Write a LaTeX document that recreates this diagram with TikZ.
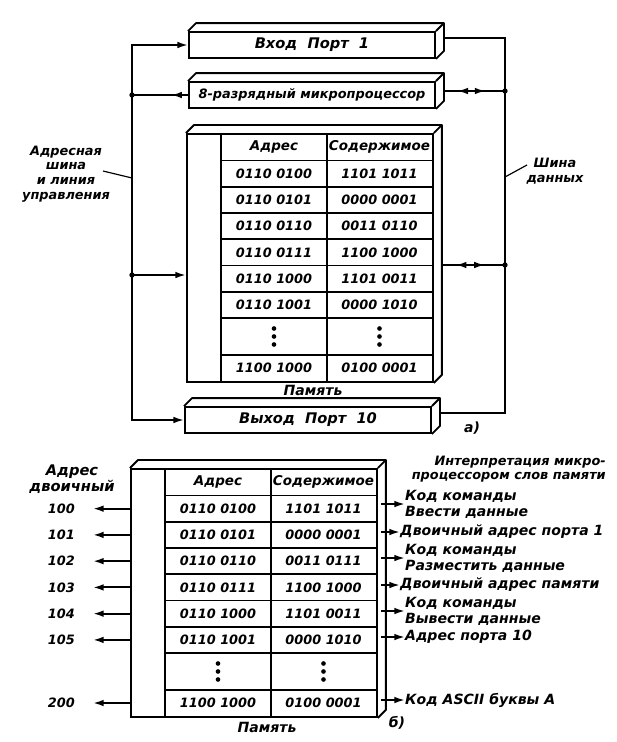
\documentclass[tikz,border=0pt]{standalone}
\usepackage{fontspec}
\setmainfont{DejaVu Sans}
\usetikzlibrary{calc,arrows.meta,decorations.markings}

\tikzset{
  lbl/.style={font=\fontsize{12}{13.5}\selectfont\bfseries\itshape, inner sep=0pt},
  small/.style={font=\fontsize{11}{12.5}\selectfont\bfseries\itshape},
  cell/.style={font=\fontsize{11}{12}\selectfont\bfseries\itshape, inner sep=0pt},
  head/.style={font=\fontsize{11.5}{13}\selectfont\bfseries\itshape, inner sep=0pt},
  bus/.style={line width=1.6pt},
  cellrule/.style={line width=1.5pt},
  leader/.style={line width=1pt},
  portbox/.style={draw, line width=1.6pt, minimum width=246*0.3mm, minimum height=26*0.3mm, inner sep=0pt, lbl, font=\fontsize{12.5}{14}\selectfont\bfseries\itshape},
  memframe/.style={draw, line width=1.6pt, minimum width=246*0.3mm, minimum height=248*0.3mm, inner sep=0pt},
  junction/.style={circle, fill, inner sep=0pt, minimum size=4.5pt},
  midleft/.style={postaction={decorate}, decoration={markings, mark=at position 0.3 with {\arrow{>}}}},
  twoway/.style={postaction={decorate}, decoration={markings, mark=at position 0.22 with {\arrowreversed{>}}, mark=at position 0.68 with {\arrow{>}}}},
}

% top and side face of a box
\newcommand{\boxdepth}[1]{%
  \draw[line width=1.6pt,line join=round] (#1.north west) -- ++(8,-8) -| ([shift={(8,-8)}]#1.south east) -- (#1.south east);
  \draw[line width=1.6pt] (#1.north east) -- ++(8,-8);
}

\begin{document}
\begin{tikzpicture}[x=0.3mm,y=-0.3mm,>={Latex[length=3.2mm,width=2mm]}]
\useasboundingbox (0,0) rectangle (617,742);

% a) ports and processor
\node[portbox] (inp) at (312,45) {Вход\ \ Порт\ \ 1};
\node[portbox,small] (mpu) at (312,95) {8-разрядный микропроцессор};
\node[portbox] (outp) at (308,420) {Выход\ \ Порт\ \ 10};
\foreach \bx in {inp,mpu,outp} \boxdepth{\bx};

% memory tables, a) and b)
\foreach \pan/\ox/\oy/\third in {a/186/133/0011 0110,b/130/468/0011 0111}{
  \node[memframe, anchor=north west] (mem\pan) at (\ox,\oy) {};
  \boxdepth{mem\pan}
  \draw[cellrule] (\ox+35,\oy) -- (\ox+35,\oy+248);
  \draw[cellrule] (\ox+141,\oy) -- (\ox+141,\oy+248);
  \foreach \ly in {27.5,53.75,80,106.25,132.5,158.75,185,222}
    \draw[cellrule] (\ox+35,\oy+\ly) -- (\ox+246,\oy+\ly);
  \node[head] (\pan-hadr) at (\ox+88,\oy+14) {Адрес};
  \node[head] (\pan-hval) at (\ox+193.5,\oy+14) {Содержимое};
  \foreach \adr/\val [count=\i] in {0110 0100/1101 1011,0110 0101/0000 0001,0110 0110/\third,0110 0111/1100 1000,0110 1000/1101 0011,0110 1001/0000 1010}{
    \node[cell] (\pan-adr\i) at (\ox+88,\oy+14.4+26.25*\i) {\adr};
    \node[cell] (\pan-val\i) at (\ox+193.5,\oy+14.4+26.25*\i) {\val};
  }
  \foreach \cx in {88,193.5}
    \foreach \dy in {-8,0,8}
      \fill (\ox+\cx,\oy+203.5+\dy) circle (2pt);
  \node[cell] (\pan-adr7) at (\ox+88,\oy+235) {1100 1000};
  \node[cell] (\pan-val7) at (\ox+193.5,\oy+235) {0100 0001};
}
\node[lbl] (memlbla) at (313,390) {Память};
\node[lbl] (capa) at (472,428) {а)};

% address bus
\coordinate (lbtop) at (132,45);
\coordinate (lbmp) at (132,95);
\coordinate (lbmem) at (132,275);
\coordinate (lbbot) at (132,420);
\draw[bus,line cap=rect] (lbtop) -- (lbbot);
\draw[bus,->] (lbtop) -- (inp.west);
\draw[bus,midleft] (mpu.west) -- (lbmp);
\draw[bus,->] (lbmem) -- (mema.west |- lbmem);
\draw[bus,->] (lbbot) -- (outp.west);
\node[junction] (jlmp) at (lbmp) {};
\node[junction] (jlmem) at (lbmem) {};

% data bus
\coordinate (rbtop) at (505,38);
\coordinate (rbmp) at (505,91);
\coordinate (rbmem) at (505,265);
\coordinate (rbbot) at (505,413);
\draw[bus,line cap=rect] (rbtop) -- (rbbot);
\draw[bus] ([shift={(8,-7)}]inp.east) -- (rbtop);
\draw[bus,twoway] ([shift={(8,-4)}]mpu.east) -- (rbmp);
\draw[bus,twoway] ($(mema.east |- rbmem)+(8,0)$) -- (rbmem);
\draw[bus] ([shift={(8,-7)}]outp.east) -- (rbbot);
\node[junction] (jrmp) at (rbmp) {};
\node[junction] (jrmem) at (rbmem) {};

% bus names
\node[lbl,small,align=center] (addrlbl) at (66,174) {Адресная\\шина\\и линия\\управления};
\coordinate (lbtag) at (132,178);
\draw[leader] ($(addrlbl.center)+(37,-3)$) -- (lbtag);
\node[lbl,small,align=center] (datalbl) at (555,171) {Шина\\данных};
\coordinate (rbtag) at (505,177);
\draw[leader] ($(datalbl.center)+(-28,-6)$) -- (rbtag);

% b) addresses
\node[lbl,align=center,font=\fontsize{12.5}{14}\selectfont\bfseries\itshape] (binlbl) at (72,479) {Адрес\\двоичный};
\foreach \num/\r in {100/1,101/2,102/3,103/4,104/5,105/6,200/7}{
  \node[lbl,small,anchor=east,xshift=-16.5mm] (num\r) at (memb.west |- b-adr\r) {\num};
  \draw[bus,->] (memb.west |- num\r) -- ([xshift=5.4mm]num\r.east);
}

% b) interpretation
\node[lbl,small,align=right,anchor=east] (inthead) at (606,469) {Интерпретация микро-\\процессором слов памяти};
\node[lbl,align=left,anchor=west] (int1) at (405,504) {Код команды\\Ввести данные};
\node[lbl,anchor=west] (int2) at (400,532) {Двоичный адрес порта 1};
\node[lbl,align=left,anchor=west] (int3) at (405,558) {Код команды\\Разместить данные};
\node[lbl,anchor=west] (int4) at (400,585) {Двоичный адрес памяти};
\node[lbl,align=left,anchor=west] (int5) at (405,611) {Код команды\\Вывести данные};
\node[lbl,anchor=west] (int6) at (405,637) {Адрес порта 10};
\node[lbl,anchor=west] (int7) at (405,700) {Код ASCII буквы А};
\foreach \k in {1,...,7}
  \draw[bus,->] ($(memb.east |- int\k.west)+(3,0)$) -- (int\k.west);
\node[lbl] (memlblb) at (267,727) {Память};
\node[lbl] (capb) at (397,723) {б)};
\end{tikzpicture}
\end{document}
